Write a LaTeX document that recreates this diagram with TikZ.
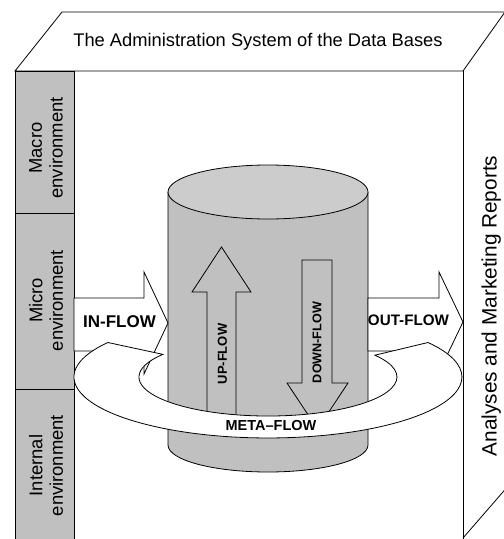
\documentclass[tikz,border=0pt]{standalone}
\usepackage{fontspec}
\setmainfont{Liberation Sans}
\definecolor{cylgray}{HTML}{C0C0C0}
\definecolor{cyltop}{HTML}{CCCCCC}
\definecolor{colgray}{HTML}{C0C0C0}
\tikzset{
  edge/.style={draw=black, line width=0.8pt, line join=miter},
  collbl/.style={rotate=90, align=center, inner sep=0pt, font=\fontsize{18.4}{20.6}\selectfont},
  flowlbl/.style={inner sep=0pt, font=\bfseries\fontsize{#1}{#1}\selectfont},
}
\begin{document}
\begin{tikzpicture}[x=1pt,y=-1pt]
\useasboundingbox (0,0) rectangle (504,539);
\clip (0,0) rectangle (504,539);
% box
\path[edge, fill=white] (15,71) -- (62,12) -- (505,12) -- (463,71) -- cycle;
\path[edge] (463,71) -- (463,539);
\path[edge] (463,538) -- (509,485);
\path[edge] (15,71) -- (15,539);
% left column
\path[edge, fill=colgray] (15,71) rectangle (74,539);
\path[edge] (15,213) -- (74,213);
\path[edge] (15,389) -- (74,389);
% cylinder
\fill[cylgray] (168,192) -- (168,445) arc[start angle=180, end angle=0, x radius=100, y radius=27] -- (368,192) -- cycle;
\path[edge] (168,192) -- (168,445) arc[start angle=180, end angle=0, x radius=100, y radius=27] -- (368,192);
\path[edge, fill=cyltop] (268,192) ellipse[x radius=100, y radius=27];
% up and down arrows
\path[edge, fill=cylgray] (207,428) -- (207,292) -- (192,292) -- (221.5,247) -- (251,292) -- (236,292) -- (236,428) -- cycle;
\path[edge, fill=cylgray] (302,260) -- (332,260) -- (332,383) -- (348,383) -- (317.5,429) -- (287,383) -- (302,383) -- cycle;
% in-flow and out-flow
\path[edge, fill=white] (74,298) -- (144,298) -- (144,272) -- (168,323) -- (144,374) -- (144,351) -- (74,351) -- cycle;
\path[edge, fill=white] (368,298) -- (439,298) -- (439,272) -- (463,322) -- (439,372) -- (439,351) -- (368,351) -- cycle;
% meta-flow band
\path[edge, fill=white] (107.9,342.5) arc[start angle=214.4, end angle=-34.4, x radius=194, y radius=61]
  -- (374.9,355.2) arc[start angle=-34, end angle=215.5, x radius=129, y radius=39] -- cycle;
% texts
\node[anchor=base, inner sep=0pt, font=\fontsize{18.3}{18.3}\selectfont] (title) at (258,46.7) {The Administration System of the Data Bases};
\node[collbl] (macro) at (46,148) {Macro\\environment};
\node[collbl] (micro) at (46,300.5) {Micro\\environment};
\node[collbl] (internal) at (46,465.5) {Internal\\environment};
\node[rotate=90, anchor=base, inner sep=0pt, font=\fontsize{20.8}{20.8}\selectfont] (reports) at (496.5,306) {Analyses and Marketing Reports};
\node[flowlbl=17] (inflow) at (119.5,322) {IN-FLOW};
\node[flowlbl=15.2] (outflow) at (408.5,320) {OUT-FLOW};
\node[flowlbl=13, rotate=90] (upflow) at (222.5,354) {UP-FLOW};
\node[flowlbl=12.6, rotate=90] (downflow) at (317,342.5) {DOWN-FLOW};
\node[flowlbl=14.5] (metaflow) at (271,426) {META–FLOW};
\end{tikzpicture}
\end{document}
